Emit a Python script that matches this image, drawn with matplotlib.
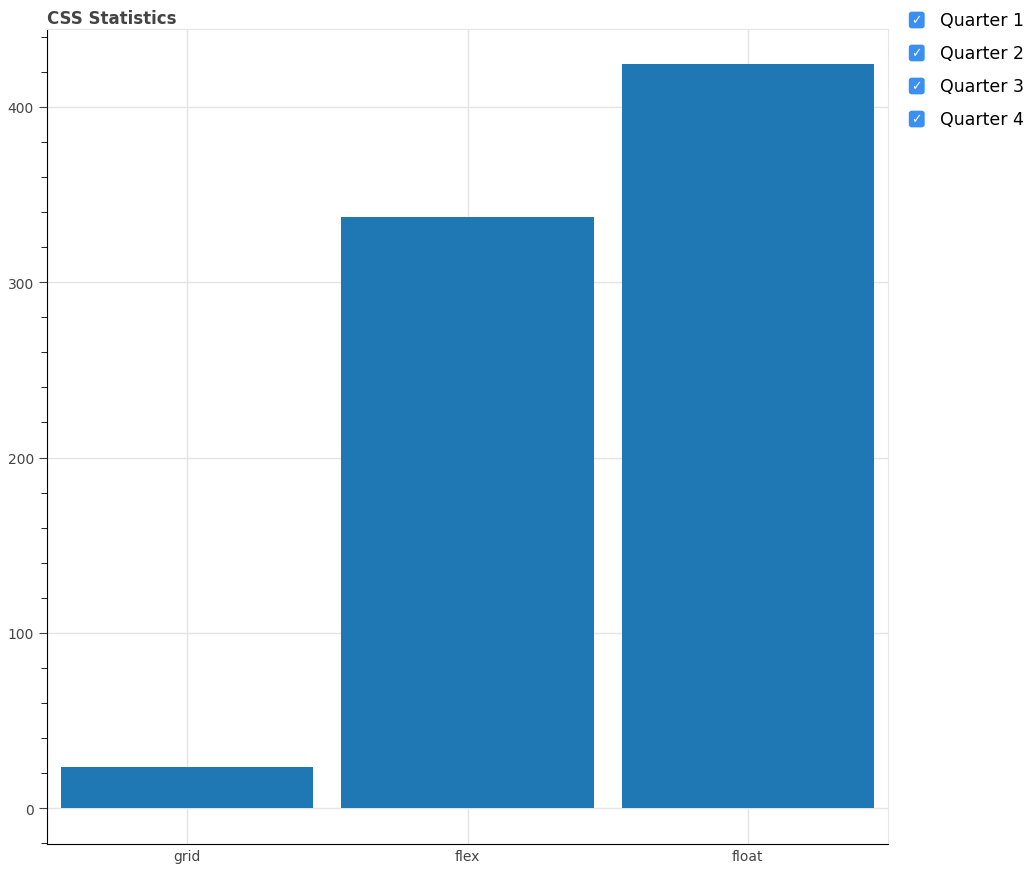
import matplotlib
matplotlib.use("Agg")
import matplotlib.pyplot as plt
from matplotlib.patches import FancyBboxPatch
from matplotlib.ticker import MultipleLocator

categories = ["grid", "flex", "float"]
values = [23.5, 337.5, 424.5]
legend_labels = ["Quarter 1", "Quarter 2", "Quarter 3", "Quarter 4"]

fig = plt.figure(figsize=(10.24, 8.79), dpi=100)
ax = fig.add_axes([0.0459, 0.0387, 0.8213, 0.9272])

x = range(len(categories))
ax.bar(x, values, width=0.9, color="#1f77b4", zorder=3)
ax.set_xlim(-0.5, 2.5)
ax.set_ylim(-20.5, 444.5)
ax.set_xticks(list(x))
ax.set_xticklabels(categories)
ax.set_yticks([0, 100, 200, 300, 400])
ax.yaxis.set_minor_locator(MultipleLocator(20))
ax.grid(True, color="#e5e5e5", lw=1, zorder=0)
for s in ("top", "right"):
    ax.spines[s].set_color("#e5e5e5")
for s in ("left", "bottom"):
    ax.spines[s].set_color("black")
ax.tick_params(axis="both", direction="out", labelsize=10, colors="#444444", length=6)
ax.tick_params(axis="y", which="minor", length=4)
ax.tick_params(axis="x", length=0)
ax.set_title("CSS Statistics", loc="left", fontsize=12, fontweight="bold", color="#444444", pad=4)

for i, lab in enumerate(legend_labels):
    yc = 1 - (21 + 33 * i) / 879
    box = FancyBboxPatch((0.8875, yc - 0.0095), 0.0155, 0.019,
                         boxstyle="round,pad=0,rounding_size=0.003",
                         transform=fig.transFigure, facecolor="#3b8ff0", edgecolor="none")
    fig.add_artist(box)
    fig.text(0.8953, yc, "✓", color="white", fontsize=9, ha="center", va="center",
             fontweight="bold")
    fig.text(0.918, yc, lab, fontsize=12.5, ha="left", va="center", color="black")

fig.savefig("out.png", dpi=100)
